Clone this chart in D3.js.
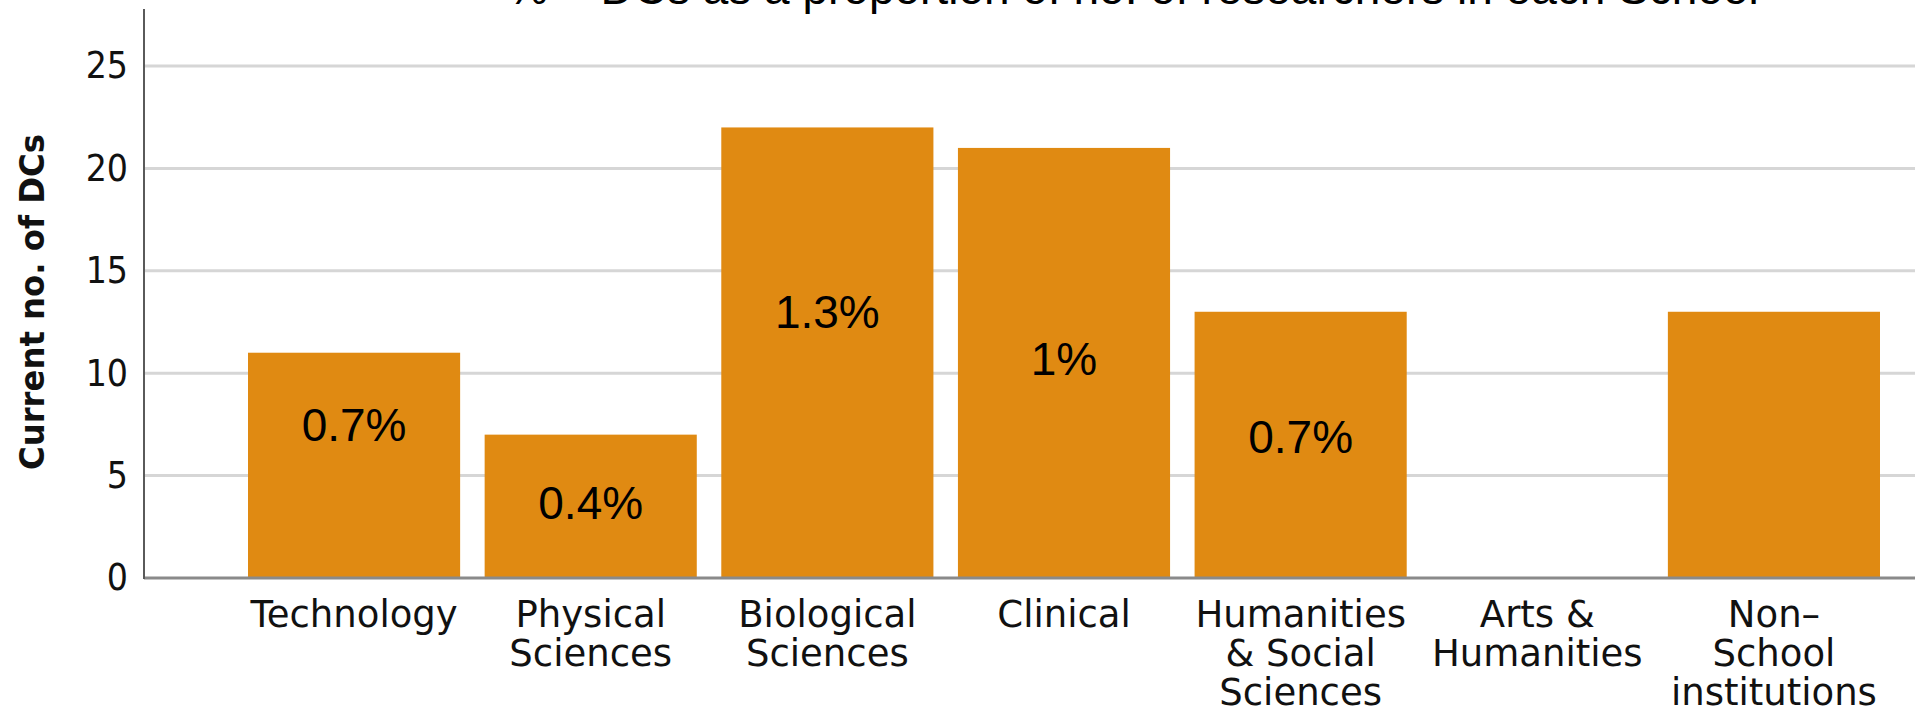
<!DOCTYPE html>
<html>
<head>
<meta charset="utf-8">
<script src="https://cdn.jsdelivr.net/npm/d3@7"></script>
<style>
	body { margin: 0; background: #fff; }
	svg { display: block; }
</style>
</head>
<body>
<div id="chart"></div>
<script>
// data
var schools = ['Technology', 'Physical Sciences', 'Biological Sciences', 'Clinical',
	'Humanities & Social Sciences', 'Arts & Humanities', 'Non-School institutions'];
var schoolLines = [
	['Technology'],
	['Physical', 'Sciences'],
	['Biological', 'Sciences'],
	['Clinical'],
	['Humanities', '& Social', 'Sciences'],
	['Arts &', 'Humanities'],
	['Non\u2013', 'School', 'institutions']
];
var dcCounts = [11, 7, 22, 21, 13, 0, 13];
var pctLabels = ['0.7%', '0.4%', '1.3%', '1%', '0.7%', '', ''];
// where each % label sits, in axis units (baseline)
var pctLabelAt = [6.7, 2.9, 12.2, 9.9, 6.1, 0, 0];
var yTicks = [0, 5, 10, 15, 20, 25];
var titleText = '% = DCs as a proportion of no. of researchers in each School';
var yTitle = 'Current no. of DCs';

var width = 1915, height = 708;
var axisX = 144, axisTop = 9;
var barColor = '#e08a12';

var svg = d3.select('#chart').append('svg')
	.attr('width', width)
	.attr('height', height);

var x = d3.scaleBand()
	.domain(schools)
	.range([248, 1880])
	.paddingInner(0.1036)
	.paddingOuter(0);

var y = d3.scaleLinear()
	.domain([0, 25])
	.range([578, 66]);

// gridlines
svg.append('g')
	.selectAll('line')
	.data(yTicks.filter(function(d){ return d > 0 }))
	.enter().append('line')
		.attr('x1', axisX)
		.attr('x2', width)
		.attr('y1', function(d){ return y(d) })
		.attr('y2', function(d){ return y(d) })
		.attr('stroke', '#d6d6d6')
		.attr('stroke-width', 3);

// bars
svg.append('g')
	.selectAll('rect')
	.data(dcCounts)
	.enter().append('rect')
		.attr('x', function(d, i){ return x(schools[i]) })
		.attr('y', function(d){ return y(d) })
		.attr('width', x.bandwidth())
		.attr('height', function(d){ return y(0) - y(d) })
		.attr('fill', barColor);

// baseline + y axis line
svg.append('line')
	.attr('x1', axisX).attr('x2', width)
	.attr('y1', y(0)).attr('y2', y(0))
	.attr('stroke', '#8a8a8a')
	.attr('stroke-width', 3);

svg.append('line')
	.attr('x1', axisX).attr('x2', axisX)
	.attr('y1', axisTop).attr('y2', y(0) + 1)
	.attr('stroke', '#5a5a5a')
	.attr('stroke-width', 2);

// y tick labels
var yAxis = d3.axisLeft(y).tickValues(yTicks).tickSize(0).tickPadding(16);
var yg = svg.append('g')
	.attr('transform', `translate(${axisX}, 0)`)
	.call(yAxis);
yg.select('.domain').remove();
yg.selectAll('text')
	.attr('font-family', '"DejaVu Sans Condensed", "DejaVu Sans", sans-serif')
	.attr('font-size', 37)
	.attr('fill', '#111');

// x labels, multi line
var xAxis = d3.axisBottom(x).tickSize(0).tickFormat('');
var xg = svg.append('g')
	.attr('transform', `translate(0, ${y(0)})`)
	.call(xAxis);
xg.select('.domain').remove();
xg.selectAll('.tick text').remove();
xg.selectAll('.tick').each(function(d, i){
	var t = d3.select(this).append('text')
		.attr('text-anchor', 'middle')
		.attr('font-family', '"DejaVu Sans", sans-serif')
		.attr('font-size', 37)
		.attr('fill', '#111');
	schoolLines[i].forEach(function(line, j){
		t.append('tspan')
			.attr('x', 0)
			.attr('y', 49 + j * 39)
			.text(line);
	});
});

// % labels in bars
svg.append('g')
	.selectAll('text')
	.data(pctLabels)
	.enter().append('text')
		.attr('x', function(d, i){ return x(schools[i]) + x.bandwidth() / 2 })
		.attr('y', function(d, i){ return y(pctLabelAt[i]) })
		.attr('text-anchor', 'middle')
		.attr('font-family', '"Liberation Sans", Arial, sans-serif')
		.attr('font-size', 46)
		.attr('fill', '#000')
		.text(function(d){ return d });

// y title
svg.append('text')
	.attr('transform', 'translate(44, 302) rotate(-90)')
	.attr('text-anchor', 'middle')
	.attr('font-family', '"DejaVu Sans", sans-serif')
	.attr('font-weight', 'bold')
	.attr('font-size', 34)
	.attr('textLength', 336)
	.attr('lengthAdjust', 'spacingAndGlyphs')
	.attr('fill', '#111')
	.text(yTitle);

// chart title, mostly cut off at the top
svg.append('text')
	.attr('x', 1133)
	.attr('y', 4)
	.attr('text-anchor', 'middle')
	.attr('font-family', '"Liberation Sans", Arial, sans-serif')
	.attr('font-size', 46)
	.attr('fill', '#000')
	.text(titleText);
</script>
</body>
</html>
